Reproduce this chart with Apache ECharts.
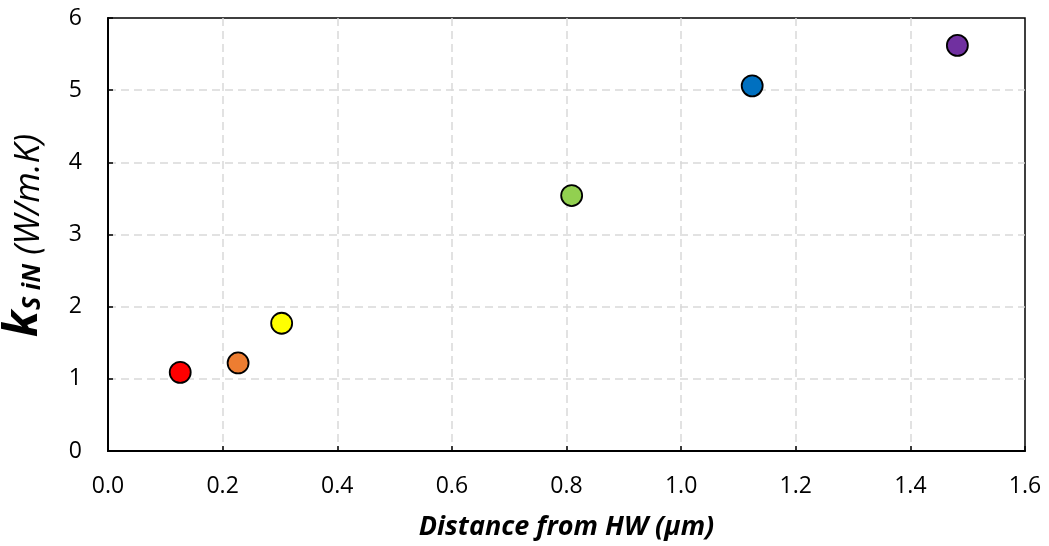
<!DOCTYPE html>
<html>
<head>
<meta charset="utf-8">
<script src="https://cdn.jsdelivr.net/npm/echarts@6/dist/echarts.min.js"></script>
<style>
  html, body { margin: 0; padding: 0; background: #fff; }
  #chart { width: 1049px; height: 546px; }
</style>
</head>
<body>
<div id="chart"></div>
<script>
// Thermal conductivity vs. distance from the hot wall
const distances = [0.126, 0.227, 0.303, 0.809, 1.124, 1.482];
const conductivity = [1.09, 1.22, 1.77, 3.54, 5.06, 5.62];
const pointColors = ['#FF0000', '#ED7D31', '#FFFF00', '#92D050', '#0070C0', '#7030A0'];

const xTitle = 'Distance from HW (μm)';
const yTitleMain = 'k';
const yTitleSub = 'S iN';
const yTitleUnit = '(W/m.K)';

const FONT = '"Open Sans", Lato, sans-serif';

const chart = echarts.init(document.getElementById('chart'), null, { renderer: 'canvas' });

const gridLine = {
  show: true, showMinLine: false, showMaxLine: false,
  lineStyle: { color: '#d9d9d9', width: 1.5, type: [8, 5] }
};

chart.setOption({
  animation: false,
  backgroundColor: '#ffffff',
  grid: {
    left: 108, right: 24, top: 18, bottom: 95,
    show: true, borderColor: '#000', borderWidth: 1.5, backgroundColor: 'transparent'
  },
  xAxis: {
    type: 'value', min: 0, max: 1.6, interval: 0.2,
    axisLine: { show: true, onZero: false, lineStyle: { color: '#000', width: 2 } },
    axisTick: { show: true, inside: true, length: 5, lineStyle: { color: '#000', width: 1.5 } },
    axisLabel: { color: '#000', fontFamily: FONT, fontSize: 23, margin: 24,
                 formatter: v => v.toFixed(1) },
    splitLine: gridLine,
    name: xTitle, nameLocation: 'middle', nameGap: 63,
    nameTextStyle: { color: '#000', fontFamily: FONT, fontSize: 27, fontWeight: 'bold', fontStyle: 'italic' }
  },
  yAxis: {
    type: 'value', min: 0, max: 6, interval: 1,
    axisLine: { show: true, lineStyle: { color: '#000', width: 2 } },
    axisTick: { show: true, inside: true, length: 5, lineStyle: { color: '#000', width: 1.5 } },
    axisLabel: { color: '#000', fontFamily: FONT, fontSize: 23, margin: 26 },
    splitLine: gridLine
  },
  graphic: [{
    type: 'text',
    x: 47, y: 337,
    rotation: Math.PI / 2,
    style: {
      text: '{k|' + yTitleMain + '}{s|' + yTitleSub + '}{u| ' + yTitleUnit + '}',
      align: 'left', verticalAlign: 'bottom',
      rich: {
        k: { fontFamily: FONT, fontSize: 46, fontWeight: 'bold', fontStyle: 'italic', fill: '#000', verticalAlign: 'bottom' },
        s: { fontFamily: FONT, fontSize: 25, fontWeight: 'bold', fontStyle: 'italic', fill: '#000', verticalAlign: 'bottom', padding: [0, 0, 2, 1] },
        u: { fontFamily: FONT, fontSize: 35, fontStyle: 'italic', fill: '#000', verticalAlign: 'bottom' }
      }
    }
  }],
  series: [{
    type: 'scatter',
    symbol: 'circle',
    symbolSize: 21,
    data: distances.map((x, i) => ({
      value: [x, conductivity[i]],
      itemStyle: { color: pointColors[i], opacity: 1, borderColor: '#000', borderWidth: 1.8 }
    }))
  }]
});
</script>
</body>
</html>
